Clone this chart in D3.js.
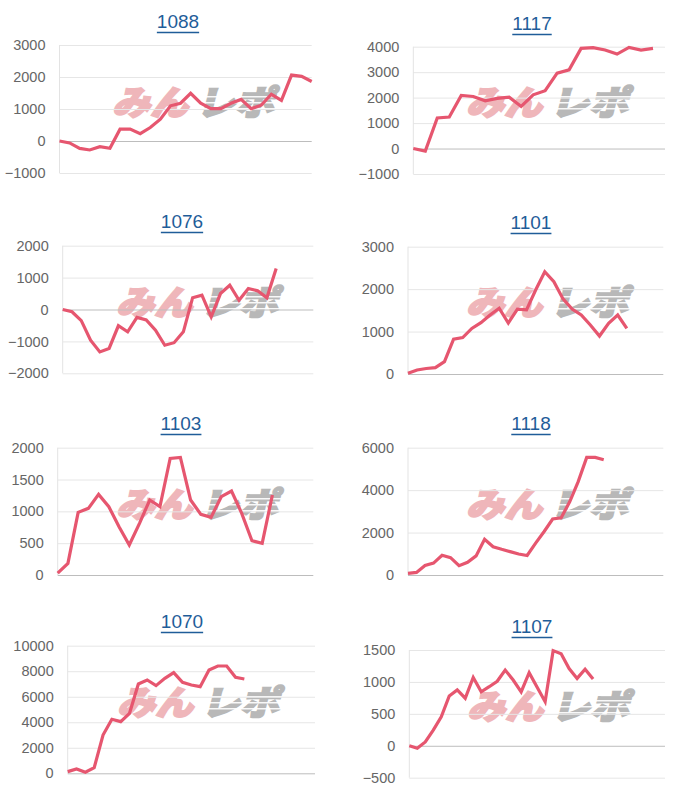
<!DOCTYPE html>
<html><head><meta charset="utf-8">
<script src="https://cdn.jsdelivr.net/npm/d3@7"></script>
<style>body{margin:0;background:#fff;} svg{display:block}</style>
</head><body>
<svg id="c" width="700" height="800"></svg>
<script>
const titles = ["1088","1117","1076","1101","1103","1118","1070","1107"];
const labelCounts = [26,22,28,29,26,31,29,33];
const values1088 = [0,-60,-230,-280,-180,-230,370,370,230,420,680,1100,1180,1490,1180,1010,1010,1180,1300,1010,1120,1460,1270,2060,2020,1860];
const values1117 = [0,-100,1200,1240,2085,2045,1875,1970,2020,1655,2110,2270,2960,3090,3935,3960,3870,3710,3970,3870,3935];
const values1076 = [0,-70,-350,-960,-1330,-1220,-510,-700,-250,-330,-650,-1120,-1040,-700,370,450,-230,500,760,290,660,585,365,1285];
const values1101 = [15,95,130,150,290,820,860,1075,1210,1390,1550,1200,1530,1510,1980,2410,2175,1770,1530,1390,1155,895,1195,1390,1075];
const values1103 = [30,183,984,1047,1267,1073,759,471,812,1178,1073,1832,1848,1178,953,906,1230,1319,969,539,497,1257];
const values1118 = [80,120,450,560,930,820,440,600,900,1680,1330,1210,1100,990,920,1500,2050,2640,2700,3450,4400,5540,5540,5430];
const values1070 = [130,340,80,440,3000,4230,4050,4700,7000,7310,6870,7440,7890,7130,6920,6790,8100,8410,8410,7520,7390];
const values1107 = [0,-40,60,245,455,780,875,745,1070,845,925,1010,1185,1030,845,1145,915,690,1490,1440,1210,1055,1200,1045];
const yTicks1088 = [-1000,0,1000,2000,3000];
const yTicks1117 = [-1000,0,1000,2000,3000,4000];
const yTicks1076 = [-2000,-1000,0,1000,2000];
const yTicks1101 = [0,1000,2000,3000];
const yTicks1103 = [0,500,1000,1500,2000];
const yTicks1118 = [0,2000,4000,6000];
const yTicks1070 = [0,2000,4000,6000,8000,10000];
const yTicks1107 = [-500,0,500,1000,1500];

const seriesList = [values1088,values1117,values1076,values1101,values1103,values1118,values1070,values1107];
const tickList = [yTicks1088,yTicks1117,yTicks1076,yTicks1101,yTicks1103,yTicks1118,yTicks1070,yTicks1107];

// layout (positions only)
const layout = [
 {l:59.5,r:311.7,t:45,b:173,tx:178,ty:23,wx:113,wy:88},
 {l:413.3,r:665,t:46.7,b:174,tx:532,ty:25,wx:467,wy:88},
 {l:62.7,r:313.3,t:245.7,b:373.3,tx:182,ty:223,wx:117,wy:288},
 {l:408,r:663.3,t:246.7,b:374,tx:531,ty:224,wx:467,wy:288},
 {l:57.7,r:313.3,t:447.7,b:575,tx:181,ty:425,wx:117,wy:490},
 {l:408,r:663.3,t:447.7,b:575,tx:531,ty:425,wx:467,wy:490},
 {l:67.7,r:315,t:645.7,b:773.3,tx:182,ty:623,wx:118,wy:688},
 {l:409.3,r:665,t:650,b:777.7,tx:532,ty:628,wx:468,wy:692}
];

const svg = d3.select("#c");
const font = "'Liberation Sans', Arial, Helvetica, sans-serif";

titles.forEach((title, i) => {
  const L = layout[i];
  const vals = seriesList[i];
  const ticks = tickList[i];
  const g = svg.append("g");
  const x = d3.scaleLinear().domain([0, labelCounts[i]-1]).range([L.l, L.r]);
  const y = d3.scaleLinear().domain([d3.min(ticks), d3.max(ticks)]).range([L.b, L.t]);

  // watermark
  const wm = g.append("g").attr("transform", `translate(${L.wx},${L.wy})`);
  const wmInner = wm.append("g").attr("transform", "skewX(-14) translate(6,0)");
  wmInner.append("text")
    .attr("x", 0).attr("y", 27)
    .attr("textLength", 76).attr("lengthAdjust", "spacingAndGlyphs")
    .style("font-family", "'Noto Sans CJK JP', sans-serif")
    .style("font-weight", 900).style("font-size", "34px")
    .style("fill", "#efb6ba").style("stroke", "#efb6ba").style("stroke-width", 2)
    .style("stroke-linejoin", "miter").text("みん");
  wmInner.append("text")
    .attr("x", 84).attr("y", 27)
    .attr("textLength", 78).attr("lengthAdjust", "spacingAndGlyphs")
    .style("font-family", "'Noto Sans CJK JP', sans-serif")
    .style("font-weight", 900).style("font-size", "34px")
    .style("fill", "#b8b8b8").style("stroke", "#b8b8b8").style("stroke-width", 2)
    .style("stroke-linejoin", "miter").text("レポ");
  [8, 14, 20].forEach(sy => {
    wm.append("rect").attr("x", 84).attr("y", sy).attr("width", 82).attr("height", 1.5)
      .style("fill", "#fff").style("opacity", 0.9);
  });

  // y axis with gridlines
  const axis = d3.axisLeft(y).tickValues(ticks).tickSize(0).tickPadding(14).tickFormat(d3.format("d"));
  const ag = g.append("g").attr("transform", `translate(${L.l},0)`).call(axis);
  ag.select(".domain").remove();
  ag.selectAll(".tick text")
    .style("font-family", font).style("font-size", "14.5px").style("fill", "#666");
  ag.selectAll(".tick").append("line")
    .attr("x1", 0).attr("x2", L.r - L.l)
    .attr("stroke", d => d === 0 ? "#bdbdbd" : "#e6e6e6")
    .attr("stroke-width", 1);
  // left vertical axis line
  g.append("line").attr("x1", L.l).attr("x2", L.l).attr("y1", L.t).attr("y2", L.b)
    .attr("stroke", "#e3e3e3").attr("stroke-width", 1);

  // line
  const line = d3.line().x((d, j) => x(j)).y(d => y(d));
  g.append("path").datum(vals).attr("d", line)
    .attr("fill", "none").attr("stroke", "#e6566f").attr("stroke-width", 3.2)
    .attr("stroke-linejoin", "miter").attr("stroke-miterlimit", 10);

  // title
  const t = g.append("text").attr("x", L.tx).attr("y", L.ty)
    .attr("text-anchor", "middle").attr("dominant-baseline", "middle")
    .style("font-family", font).style("font-size", "19px").style("fill", "#1f5d99")
    .text(title);
  const w = t.node().getComputedTextLength();
  g.append("line").attr("x1", L.tx - w/2).attr("x2", L.tx + w/2)
    .attr("y1", L.ty + 9.5).attr("y2", L.ty + 9.5)
    .attr("stroke", "#1f5d99").attr("stroke-width", 1.4);
});
</script>
</body></html>
